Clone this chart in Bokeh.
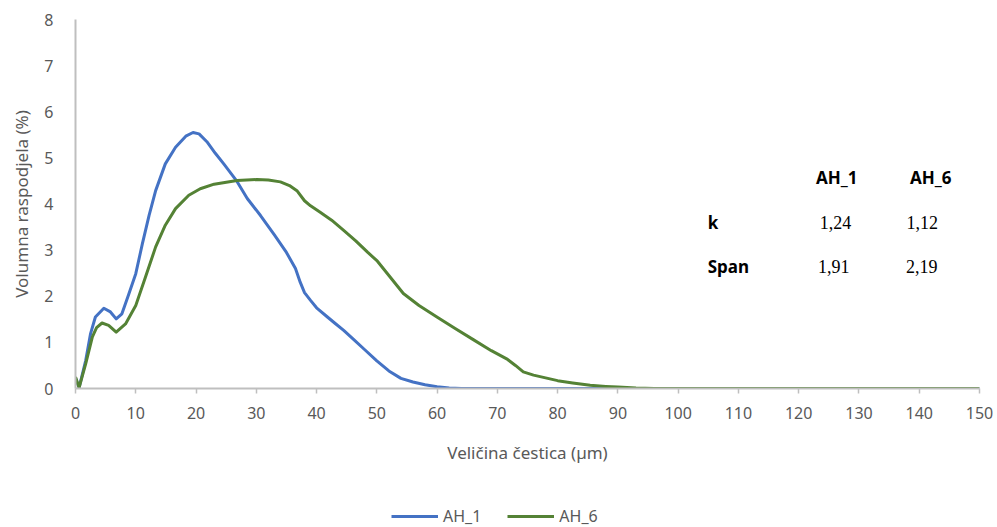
from bokeh.plotting import figure
from bokeh.models import Range1d, FixedTicker, Legend, LegendItem
from bokeh.layouts import column
from bokeh.core.properties import value
from bokeh.embed import file_html
from bokeh.resources import INLINE

# ---- data ----
ah1_x = [0, 0.6, 1.7, 2.5, 3.3, 4.7, 5.8, 6.75, 7.7, 8.85, 10, 11.1, 12.2, 13.3, 14.9, 16.6,
         18.3, 19.5, 20.5, 21.8, 23.2, 24.6, 26.8, 28.5, 30.7, 33, 35, 36.5, 37.3, 38, 39, 40,
         41.8, 43, 44.5, 46, 48, 50, 52, 54, 56, 58, 60, 62, 64,
         70, 80, 90, 100, 110, 120, 130, 140, 150]
ah1_y = [0.22, 0.02, 0.61, 1.19, 1.55, 1.74, 1.66, 1.51, 1.62, 2.05, 2.49, 3.14, 3.75, 4.29,
         4.87, 5.23, 5.47, 5.55, 5.52, 5.35, 5.1, 4.87, 4.49, 4.12, 3.75, 3.33, 2.95, 2.6, 2.3,
         2.08, 1.91, 1.75, 1.55, 1.42, 1.26, 1.08, 0.84, 0.6, 0.38, 0.22, 0.14, 0.08, 0.04,
         0.01, 0.0,
         0.0, 0.0, 0.0, 0.0, 0.0, 0.0, 0.0, 0.0, 0.0]

ah6_x = [0, 0.6, 1.7, 2.8, 3.5, 4.4, 5.5, 6.75, 8.3, 10, 11.6, 13.3, 14.9, 16.6, 18.8, 20.7,
         23, 26.8, 30.1, 32, 34, 35.5, 36.8, 38, 39, 40.6, 42.5, 44.5, 46.5, 48.5, 50.1, 52,
         54.4, 57, 60.1, 63, 66, 69, 71.7, 73, 74.3, 76, 78, 80, 82.5, 85.4, 88, 90, 93, 96,
         100, 110, 120, 130, 140, 150]
ah6_y = [0.25, 0.02, 0.54, 1.12, 1.32, 1.42, 1.37, 1.22, 1.40, 1.80, 2.41, 3.07, 3.54, 3.90,
         4.19, 4.33, 4.43, 4.51, 4.53, 4.52, 4.48, 4.40, 4.28, 4.07, 3.96, 3.82, 3.65, 3.43, 3.2,
         2.95, 2.76, 2.45, 2.06, 1.8, 1.54, 1.3, 1.06, 0.82, 0.63, 0.5, 0.36, 0.29, 0.23, 0.17,
         0.12, 0.07, 0.045, 0.03, 0.01, 0.0,
         0.0, 0.0, 0.0, 0.0, 0.0, 0.0]

x_ticks = list(range(0, 151, 10))
y_ticks = list(range(0, 9))

table_header = ["AH_1", "AH_6"]
table_rows = ["k", "Span"]
k_values = ["1,24", "1,12"]
span_values = ["1,91", "2,19"]

series_names = ["AH_1", "AH_6"]
series_colors = ["#4472C4", "#548235"]

FONT = "Noto Sans"
GRAY = "#595959"
AX = "#BFBFBF"

# ---- main figure ----
p = figure(width=997, height=500, output_backend="svg", toolbar_location=None,
           x_range=Range1d(0, 150), y_range=Range1d(0, 8),
           min_border_left=75, min_border_right=18, min_border_top=19, min_border_bottom=112)
p.outline_line_color = None
p.xgrid.grid_line_color = None
p.ygrid.grid_line_color = None

p.line(ah1_x, ah1_y, line_color=series_colors[0], line_width=3, line_join="round")
p.line(ah6_x, ah6_y, line_color=series_colors[1], line_width=3, line_join="round")

xa = p.xaxis[0]
xa.ticker = FixedTicker(ticks=x_ticks)
xa.minor_tick_line_color = None
xa.major_tick_in = 0
xa.major_tick_out = 5
xa.major_tick_line_color = AX
xa.major_tick_line_width = 1.5
xa.axis_line_color = AX
xa.axis_line_width = 2
xa.major_label_text_font = FONT
xa.major_label_text_font_size = "16px"
xa.major_label_text_color = GRAY
xa.major_label_standoff = 13
xa.axis_label = "Veličina čestica (µm)"
xa.axis_label_text_font = FONT
xa.axis_label_text_font_size = "17px"
xa.axis_label_text_font_style = "normal"
xa.axis_label_text_color = GRAY
xa.axis_label_standoff = 19

ya = p.yaxis[0]
ya.ticker = FixedTicker(ticks=y_ticks)
ya.minor_tick_line_color = None
ya.major_tick_line_color = None
ya.major_tick_in = 0
ya.major_tick_out = 0
ya.axis_line_color = AX
ya.axis_line_width = 2
ya.major_label_text_font = FONT
ya.major_label_text_font_size = "16px"
ya.major_label_text_color = GRAY
ya.major_label_standoff = 22
ya.axis_label = "Volumna raspodjela (%)"
ya.axis_label_text_font = FONT
ya.axis_label_text_font_size = "17px"
ya.axis_label_text_font_style = "normal"
ya.axis_label_text_color = GRAY
ya.axis_label_standoff = 8

# ---- inset table ----
p.text(x=[126.3, 141.9], y=[4.58, 4.58], text=table_header, text_font=value(FONT),
       text_font_style="bold", text_font_size="17px", text_color="black",
       text_align="center", text_baseline="middle")
p.text(x=[104.9, 104.9], y=[3.60, 2.65], text=table_rows, text_font=value(FONT),
       text_font_style="bold", text_font_size="17px", text_color="black",
       text_align="left", text_baseline="middle")
p.text(x=[126.1, 140.5], y=[3.60, 3.60], text=k_values, text_font=value("Liberation Serif"),
       text_font_size="18px", text_color="black", text_align="center", text_baseline="middle")
p.text(x=[125.8, 140.4], y=[2.65, 2.65], text=span_values, text_font=value("Liberation Serif"),
       text_font_size="18px", text_color="black", text_align="center", text_baseline="middle")

# ---- legend strip (separate small figure under the chart) ----
lg = figure(width=997, height=27, output_backend="svg", toolbar_location=None,
            x_range=Range1d(-20, -10), y_range=Range1d(-20, -10),
            x_axis_location=None, y_axis_location=None,
            min_border_left=0, min_border_right=0, min_border_top=0, min_border_bottom=0)
lg.outline_line_color = None
lg.xgrid.grid_line_color = None
lg.ygrid.grid_line_color = None
lr1 = lg.line(ah1_x, ah1_y, line_color=series_colors[0], line_width=3)
lr2 = lg.line(ah6_x, ah6_y, line_color=series_colors[1], line_width=3)

legend = Legend(items=[LegendItem(label=series_names[0], renderers=[lr1]),
                       LegendItem(label=series_names[1], renderers=[lr2])],
                orientation="horizontal", location=(316, 0),
                border_line_color=None, background_fill_alpha=0,
                glyph_width=47, glyph_height=16, label_height=20,
                label_text_font=FONT, label_text_font_size="16px", label_text_color=GRAY,
                spacing=26, padding=0, margin=0, label_standoff=5)
lg.add_layout(legend, "center")

layout = column(p, lg, spacing=0)
open("out.html", "w").write(file_html(layout, INLINE))
